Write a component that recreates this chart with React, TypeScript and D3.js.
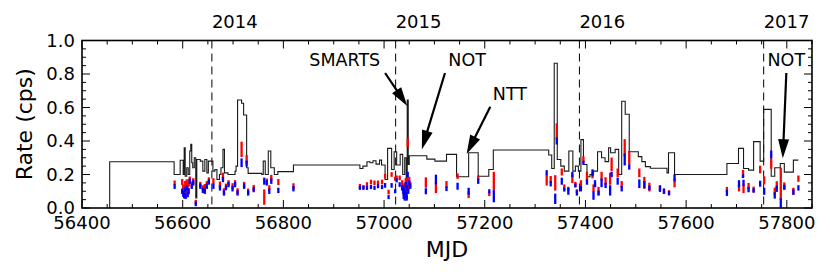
import React from 'react';
import * as d3 from 'd3';

// step light curve (start MJD of each bin, rate)
const lineMjd = [
  56454, 56455, 56583, 56595, 56601, 56603, 56605, 56608, 56611, 56614, 56616, 56618, 56620, 56623,
  56626, 56628, 56635, 56640, 56644, 56648, 56651, 56660, 56664, 56668, 56673, 56676, 56680, 56683,
  56690, 56704, 56706, 56709, 56717, 56721, 56727, 56730, 56757, 56760, 56764, 56770, 56775, 56782,
  56789, 56820, 56952, 56958, 56966, 56972, 56978, 56984, 56991, 56995, 57002, 57007, 57015, 57020,
  57025, 57032, 57037, 57041, 57044, 57046, 57048, 57050, 57085, 57101, 57124, 57144, 57168, 57187,
  57208, 57217, 57327, 57333, 57338, 57344, 57351, 57358, 57367, 57375, 57380, 57386, 57391, 57396,
  57403, 57409, 57416, 57424, 57432, 57439, 57446, 57450, 57459, 57466, 57472, 57479, 57487, 57505,
  57512, 57519, 57529, 57562, 57565, 57577, 57681, 57704, 57714, 57724, 57734, 57747, 57754, 57769,
  57776, 57787, 57795, 57813, 57823,
];
const lineRate = [
  0, 0.276, 0.2, 0.285, 0.2, 0.36, 0.19, 0.24, 0.2, 0.34, 0.38, 0.27, 0.24, 0.3,
  0.06, 0.29, 0.28, 0.22, 0.29, 0.21, 0.28, 0.22, 0.23, 0.17, 0.2, 0.24, 0.35, 0.21,
  0.2, 0.22, 0.25, 0.645, 0.625, 0.555, 0.24, 0.207, 0.2, 0.28, 0.2, 0.34, 0.24, 0.2,
  0.217, 0.257, 0.236, 0.25, 0.276, 0.27, 0.282, 0.262, 0.286, 0.257, 0.17, 0.356, 0.23, 0.336,
  0.257, 0.32, 0.2, 0.3, 0.15, 0.645, 0.26, 0.312, 0.292, 0.28, 0.32, 0.187, 0.33, 0.19,
  0.23, 0.346, 0.316, 0.236, 0.864, 0.29, 0.25, 0.22, 0.34, 0.22, 0.25, 0.22, 0.408, 0.26,
  0.187, 0.2, 0.22, 0.336, 0.3, 0.277, 0.36, 0.33, 0.35, 0.2, 0.637, 0.56, 0.336, 0.307,
  0.277, 0.247, 0.237, 0.21, 0.33, 0.2, 0.266, 0.356, 0.236, 0.226, 0.396, 0.28, 0.589, 0.19,
  0.24, 0.266, 0.214, 0.286, 0.286,
];

// two-band measurements with errors
const obsMjd = [
  56584, 56599, 56601, 56603, 56605, 56606, 56608, 56610, 56612, 56614, 56618, 56621, 56626, 56635,
  56640, 56644, 56648, 56652, 56661, 56674, 56680, 56682, 56686, 56691, 56699, 56704, 56709, 56717,
  56722, 56727, 56730, 56741, 56762, 56767, 56772, 56776, 56790, 56820,
  56952, 56959, 56966, 56974, 56981, 56988, 56996, 57002, 57009, 57015, 57022, 57025, 57031,
  57036, 57038, 57039, 57040, 57041, 57042, 57043, 57044, 57045, 57046, 57047, 57048, 57050, 57052,
  57083, 57103, 57124, 57146, 57168, 57187, 57209, 57218,
  57323, 57331, 57340, 57343, 57353, 57358, 57366, 57374, 57380, 57383, 57391, 57396, 57403, 57414,
  57416, 57419, 57426, 57432, 57440, 57449, 57452, 57464, 57472, 57478, 57487, 57507, 57517, 57527,
  57548, 57556, 57566, 57577, 57681, 57705, 57713, 57714, 57724, 57734, 57747, 57755, 57769, 57776,
  57780, 57788, 57795, 57813, 57823,
];
const redRate = [
  0.15, 0.155, 0.12, 0.09, 0.14, 0.1, 0.135, 0.11, 0.15, 0.17, 0.14, 0.16, 0.035, 0.14,
  0.12, 0.125, 0.145, 0.165, 0.16, 0.14, 0.19, 0.1, 0.13, 0.15, 0.13, 0.15, 0.1, 0.35,
  0.14, 0.29, 0.1, 0.12, 0.065, 0.16, 0.12, 0.18, 0.155, 0.13,
  0.13, 0.125, 0.14, 0.155, 0.15, 0.15, 0.155, 0.19, 0.095, 0.2, 0.175, 0.18, 0.18,
  0.15, 0.12, 0.09, 0.13, 0.08, 0.11, 0.16, 0.1, 0.07, 0.14, 0.39, 0.12, 0.17, 0.14,
  0.152, 0.12, 0.14, 0.19, 0.08, 0.18, 0.085, 0.16,
  0.165, 0.17, 0.15, 0.46, 0.215, 0.125, 0.115, 0.175, 0.14, 0.1, 0.145, 0.29, 0.19, 0.195,
  0.12, 0.14, 0.1, 0.19, 0.16, 0.175, 0.26, 0.21, 0.14, 0.36, 0.3, 0.21, 0.15, 0.125,
  0.12, 0.1, 0.09, 0.15, 0.112, 0.12, 0.205, 0.115, 0.13, 0.11, 0.23, 0.165, 0.265, 0.1,
  0.14, 0.145, 0.13, 0.1, 0.175,
];
const redErr = [
  0.008, 0.012, 0.015, 0.01, 0.015, 0.012, 0.03, 0.015, 0.015, 0.012, 0.012, 0.012, 0.008, 0.01,
  0.01, 0.012, 0.01, 0.012, 0.012, 0.012, 0.015, 0.012, 0.01, 0.01, 0.012, 0.01, 0.012, 0.04,
  0.01, 0.02, 0.01, 0.012, 0.04, 0.01, 0.01, 0.012, 0.012, 0.012,
  0.008, 0.006, 0.008, 0.008, 0.008, 0.008, 0.008, 0.008, 0.008, 0.008, 0.006, 0.008, 0.008,
  0.01, 0.01, 0.01, 0.012, 0.01, 0.01, 0.012, 0.01, 0.01, 0.01, 0.02, 0.01, 0.01, 0.01,
  0.025, 0.025, 0.015, 0.01, 0.015, 0.008, 0.008, 0.05,
  0.025, 0.015, 0.04, 0.04, 0.015, 0.01, 0.006, 0.02, 0.01, 0.006, 0.015, 0.012, 0.02, 0.012,
  0.015, 0.008, 0.02, 0.02, 0.018, 0.03, 0.035, 0.02, 0.015, 0.045, 0.035, 0.02, 0.03, 0.02,
  0.01, 0.01, 0.01, 0.02, 0.008, 0.015, 0.016, 0.02, 0.014, 0.012, 0.017, 0.018, 0.025, 0.016,
  0.014, 0.09, 0.017, 0.015, 0.013,
];
const blueRate = [
  0.128, 0.1, 0.085, 0.075, 0.11, 0.07, 0.12, 0.08, 0.1, 0.16, 0.13, 0.15, 0.025, 0.13,
  0.105, 0.1, 0.13, 0.155, 0.13, 0.12, 0.17, 0.09, 0.12, 0.14, 0.115, 0.14, 0.09, 0.27,
  0.13, 0.265, 0.09, 0.11, 0.16, 0.15, 0.1, 0.16, 0.105, 0.115,
  0.12, 0.12, 0.12, 0.125, 0.12, 0.13, 0.125, 0.135, 0.065, 0.135, 0.1, 0.165, 0.14,
  0.12, 0.1, 0.07, 0.11, 0.06, 0.09, 0.14, 0.08, 0.06, 0.12, 0.2, 0.1, 0.15, 0.13,
  0.1, 0.17, 0.115, 0.13, 0.1, 0.16, 0.1, 0.07,
  0.21, 0.145, 0.055, 0.4, 0.16, 0.11, 0.1, 0.2, 0.135, 0.09, 0.115, 0.27, 0.155, 0.21,
  0.075, 0.145, 0.09, 0.15, 0.135, 0.105, 0.2, 0.16, 0.115, 0.29, 0.245, 0.145, 0.14, 0.12,
  0.115, 0.1, 0.09, 0.18, 0.09, 0.145, 0.19, 0.15, 0.11, 0.105, 0.145, 0.1, 0.32, 0.075,
  0.115, 0.03, 0.125, 0.095, 0.12,
];
const blueErr = [
  0.008, 0.01, 0.012, 0.012, 0.01, 0.01, 0.01, 0.01, 0.012, 0.01, 0.01, 0.01, 0.008, 0.01,
  0.01, 0.01, 0.01, 0.01, 0.01, 0.01, 0.01, 0.01, 0.008, 0.01, 0.01, 0.01, 0.01, 0.02,
  0.01, 0.012, 0.01, 0.01, 0.015, 0.01, 0.01, 0.01, 0.01, 0.01,
  0.006, 0.006, 0.006, 0.006, 0.006, 0.006, 0.006, 0.008, 0.006, 0.008, 0.006, 0.006, 0.008,
  0.01, 0.01, 0.01, 0.01, 0.01, 0.01, 0.01, 0.012, 0.01, 0.01, 0.01, 0.01, 0.01, 0.01,
  0.012, 0.023, 0.008, 0.015, 0.015, 0.01, 0.006, 0.03,
  0.01, 0.01, 0.025, 0.015, 0.015, 0.006, 0.015, 0.01, 0.006, 0.01, 0.01, 0.006, 0.01, 0.015,
  0.02, 0.015, 0.008, 0.02, 0.01, 0.025, 0.01, 0.015, 0.01, 0.03, 0.01, 0.02, 0.015, 0.008,
  0.013, 0.01, 0.006, 0.015, 0.012, 0.015, 0.005, 0.013, 0.01, 0.007, 0.012, 0.015, 0.017, 0.013,
  0.013, 0.022, 0.008, 0.01, 0.01,
];

const yearLabels = ['2014', '2015', '2016', '2017'];
const yearMjd = [56658, 57023, 57388, 57754];

// annotations: label position, arrow start, arrow tip (MJD, rate)
const noteText = ['SMARTS', 'NOT', 'NTT', 'NOT'];
const noteAt = [[56922, 0.845], [57165, 0.845], [57250, 0.645], [57799, 0.845]];
const noteFrom = [[57002, 0.806], [57121, 0.806], [57211, 0.605], [57799, 0.806]];
const noteTo = [[57046, 0.609], [57075, 0.35], [57164, 0.322], [57792, 0.297]];

const W = 830;
const H = 279;
const margin = { top: 40.5, right: 18, bottom: 71, left: 82 };
const font = 'DejaVu Sans, sans-serif';

function arrowPath(x1: number, y1: number, x2: number, y2: number) {
  const dx = x2 - x1;
  const dy = y2 - y1;
  const len = Math.hypot(dx, dy);
  const ux = dx / len;
  const uy = dy / len;
  const px = -uy;
  const py = ux;
  const headL = 19;
  const headW = 5.5;
  const shaftW = 1.1;
  const bx = x2 - ux * headL;
  const by = y2 - uy * headL;
  const pts = [
    [x1 + px * shaftW, y1 + py * shaftW],
    [bx + px * shaftW, by + py * shaftW],
    [bx + px * headW, by + py * headW],
    [x2, y2],
    [bx - px * headW, by - py * headW],
    [bx - px * shaftW, by - py * shaftW],
    [x1 - px * shaftW, y1 - py * shaftW],
  ];
  return 'M' + pts.map((p) => p.join(',')).join('L') + 'Z';
}

export default function App() {
  const x = d3.scaleLinear().domain([56400, 57850]).range([margin.left, W - margin.right]);
  const y = d3.scaleLinear().domain([0, 1]).range([H - margin.bottom, margin.top]);
  const x0 = margin.left;
  const x1 = W - margin.right;
  const y0 = H - margin.bottom;
  const y1 = margin.top;

  const line = d3
    .line<number>()
    .x((_, i) => x(lineMjd[i]))
    .y((d) => y(d))
    .curve(d3.curveStepAfter);

  const xMajor = d3.range(56400, 57801, 200);
  const xMinor = d3.range(56400, 57851, 50).filter((v) => (v - 56400) % 200 !== 0);
  const yMajor = d3.range(0, 1.001, 0.2);
  const yMinor = d3.range(0.05, 1, 0.05).filter((v) => Math.abs(v / 0.2 - Math.round(v / 0.2)) > 0.01);

  return (
    <svg width={W} height={H} style={{ position: 'absolute', left: 0, top: 0, background: '#fff' }}>
      <g>
        {yearMjd.map((m, i) => (
          <line key={'yl' + i} x1={x(m)} x2={x(m)} y1={y1} y2={y0} stroke="#000" strokeWidth={1} strokeDasharray="8,5" />
        ))}
      </g>
      <path d={line(lineRate) || ''} fill="none" stroke="#1a1a1a" strokeWidth={1.1} />
      <g>
        {obsMjd.map((m, i) => (
          <line key={'r' + i} x1={x(m)} x2={x(m)} y1={y(redRate[i] - redErr[i]) + 1} y2={y(redRate[i] + redErr[i]) - 1}
            stroke="#ff0000" strokeWidth={2.3} />
        ))}
        {obsMjd.map((m, i) => (
          <line key={'b' + i} x1={x(m)} x2={x(m)} y1={y(blueRate[i] - blueErr[i]) + 1} y2={y(blueRate[i] + blueErr[i]) - 1}
            stroke="#0000ff" strokeWidth={2.3} />
        ))}
      </g>
      {/* frame and ticks */}
      <rect x={x0} y={y1} width={x1 - x0} height={y0 - y1} fill="none" stroke="#000" strokeWidth={1.6} />
      <g stroke="#000" strokeWidth={1}>
        {xMajor.map((v) => (
          <g key={'xM' + v}>
            <line x1={x(v)} x2={x(v)} y1={y0} y2={y0 - 8} />
            <line x1={x(v)} x2={x(v)} y1={y1} y2={y1 + 8} />
          </g>
        ))}
        {xMinor.map((v) => (
          <g key={'xm' + v}>
            <line x1={x(v)} x2={x(v)} y1={y0} y2={y0 - 4} />
            <line x1={x(v)} x2={x(v)} y1={y1} y2={y1 + 4} />
          </g>
        ))}
        {yMajor.map((v) => (
          <g key={'yM' + v}>
            <line x1={x0} x2={x0 + 8} y1={y(v)} y2={y(v)} />
            <line x1={x1} x2={x1 - 8} y1={y(v)} y2={y(v)} />
          </g>
        ))}
        {yMinor.map((v) => (
          <g key={'ym' + v}>
            <line x1={x0} x2={x0 + 4} y1={y(v)} y2={y(v)} />
            <line x1={x1} x2={x1 - 4} y1={y(v)} y2={y(v)} />
          </g>
        ))}
      </g>
      <g fontFamily={font} fontSize={18} fill="#000">
        {xMajor.map((v) => (
          <text key={'xt' + v} x={x(v)} y={y0 + 21} textAnchor="middle">{v}</text>
        ))}
        {yMajor.map((v) => (
          <text key={'yt' + v} x={x0 - 7} y={y(v) + 6} textAnchor="end">{d3.format('.1f')(v)}</text>
        ))}
        {yearMjd.map((m, i) => (
          <text key={'yr' + i} x={x(m)} y={28} textAnchor="start">{yearLabels[i]}</text>
        ))}
      </g>
      <text x={(x0 + x1) / 2} y={257} textAnchor="middle" fontFamily={font} fontSize={22}>MJD</text>
      <text transform={`translate(32,${(y0 + y1) / 2}) rotate(-90)`} textAnchor="middle" fontFamily={font} fontSize={22}>
        Rate (cps)
      </text>
      {/* annotations */}
      <g>
        {noteText.map((t, i) => (
          <g key={'n' + i}>
            <text x={x(noteAt[i][0])} y={y(noteAt[i][1])} textAnchor="middle" fontFamily={font} fontSize={17.5}>{t}</text>
            <path d={arrowPath(x(noteFrom[i][0]), y(noteFrom[i][1]), x(noteTo[i][0]), y(noteTo[i][1]))} fill="#000" />
          </g>
        ))}
      </g>
    </svg>
  );
}
